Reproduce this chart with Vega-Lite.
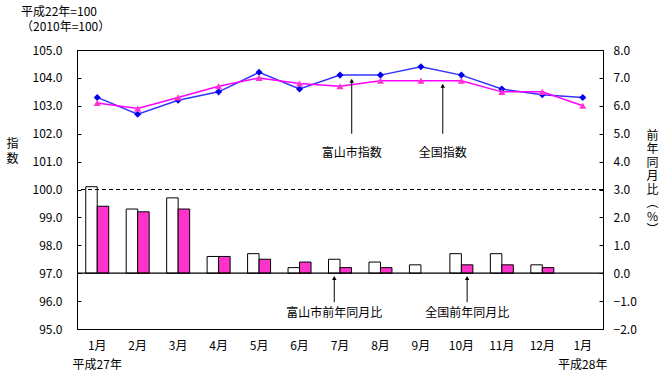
{
  "$schema": "https://vega.github.io/schema/vega-lite/v6.json",
  "width": 526,
  "height": 279,
  "autosize": "none",
  "padding": {"left": 77, "top": 50, "right": 59, "bottom": 59},
  "background": "#FFFFFF",
  "title": {
    "text": ["平成22年=100", "（2010年=100）"],
    "anchor": "start",
    "frame": "group",
    "dx": -56,
    "offset": 10,
    "fontSize": 12,
    "fontWeight": "normal",
    "lineHeight": 15,
    "font": "Noto Sans CJK JP",
    "color": "#000"
  },
  "config": {
    "view": {"stroke": "#000", "strokeWidth": 1},
    "font": "Noto Sans CJK JP",
    "axis": {
      "labelColor": "#000",
      "domainColor": "#000",
      "tickColor": "#000",
      "titleColor": "#000",
      "labelFont": "Noto Sans CJK JP",
      "titleFont": "Noto Sans CJK JP",
      "labelOverlap": false,
      "grid": false
    }
  },
  "datasets": {
    "one": [{}],
    "index": [
      {"month": 1, "series": "富山市", "value": 103.3},
      {"month": 2, "series": "富山市", "value": 102.7},
      {"month": 3, "series": "富山市", "value": 103.2},
      {"month": 4, "series": "富山市", "value": 103.5},
      {"month": 5, "series": "富山市", "value": 104.2},
      {"month": 6, "series": "富山市", "value": 103.6},
      {"month": 7, "series": "富山市", "value": 104.1},
      {"month": 8, "series": "富山市", "value": 104.1},
      {"month": 9, "series": "富山市", "value": 104.4},
      {"month": 10, "series": "富山市", "value": 104.1},
      {"month": 11, "series": "富山市", "value": 103.6},
      {"month": 12, "series": "富山市", "value": 103.4},
      {"month": 13, "series": "富山市", "value": 103.3},
      {"month": 1, "series": "全国", "value": 103.1},
      {"month": 2, "series": "全国", "value": 102.9},
      {"month": 3, "series": "全国", "value": 103.3},
      {"month": 4, "series": "全国", "value": 103.7},
      {"month": 5, "series": "全国", "value": 104.0},
      {"month": 6, "series": "全国", "value": 103.8},
      {"month": 7, "series": "全国", "value": 103.7},
      {"month": 8, "series": "全国", "value": 103.9},
      {"month": 9, "series": "全国", "value": 103.9},
      {"month": 10, "series": "全国", "value": 103.9},
      {"month": 11, "series": "全国", "value": 103.5},
      {"month": 12, "series": "全国", "value": 103.5},
      {"month": 13, "series": "全国", "value": 103.0}
    ],
    "yoy": [
      {"month": 1, "series": "富山市", "value": 3.1},
      {"month": 2, "series": "富山市", "value": 2.3},
      {"month": 3, "series": "富山市", "value": 2.7},
      {"month": 4, "series": "富山市", "value": 0.6},
      {"month": 5, "series": "富山市", "value": 0.7},
      {"month": 6, "series": "富山市", "value": 0.2},
      {"month": 7, "series": "富山市", "value": 0.5},
      {"month": 8, "series": "富山市", "value": 0.4},
      {"month": 9, "series": "富山市", "value": 0.3},
      {"month": 10, "series": "富山市", "value": 0.7},
      {"month": 11, "series": "富山市", "value": 0.7},
      {"month": 12, "series": "富山市", "value": 0.3},
      {"month": 1, "series": "全国", "value": 2.4},
      {"month": 2, "series": "全国", "value": 2.2},
      {"month": 3, "series": "全国", "value": 2.3},
      {"month": 4, "series": "全国", "value": 0.6},
      {"month": 5, "series": "全国", "value": 0.5},
      {"month": 6, "series": "全国", "value": 0.4},
      {"month": 7, "series": "全国", "value": 0.2},
      {"month": 8, "series": "全国", "value": 0.2},
      {"month": 10, "series": "全国", "value": 0.3},
      {"month": 11, "series": "全国", "value": 0.3},
      {"month": 12, "series": "全国", "value": 0.2}
    ],
    "barNotes": [
      {"month": 7, "series": "富山市", "label": "富山市前年同月比"},
      {"month": 10, "series": "全国", "label": "全国前年同月比"}
    ]
  },
  "layer": [
    {
      "layer": [
        {
          "data": {"name": "yoy"},
          "mark": {"type": "bar", "stroke": "#000", "strokeWidth": 1},
          "encoding": {
            "x": {
              "field": "month",
              "type": "ordinal",
              "scale": {"paddingInner": 0, "paddingOuter": 0},
              "axis": {
                "title": null,
                "labelAngle": 0,
                "ticks": false,
                "domain": false,
                "labelPadding": 11,
                "labelFontSize": 12,
                "labelLineHeight": 19,
                "labelBaseline": "top",
                "labelOverlap": false,
                "labelExpr": "datum.value == 1 ? ['1月', '平成27年'] : datum.value == 13 ? ['1月', '平成28年'] : datum.value + '月'"
              }
            },
            "xOffset": {
              "field": "series",
              "type": "nominal",
              "sort": ["富山市", "全国"],
              "scale": {"domain": ["富山市", "全国"], "paddingInner": 0, "paddingOuter": 0.76}
            },
            "y": {
              "field": "value",
              "type": "quantitative",
              "scale": {"domain": [-2, 8], "nice": false, "zero": false},
              "axis": {
                "orient": "right",
                "tickCount": 10,
                "format": ".1f",
                "tickSize": -4,
                "labelPadding": 14,
                "labelFontSize": 12,
                "labelOverlap": false,
                "title": ["前", "年", "同", "月", "比", "︵", "%", "︶"],
                "titleAngle": 0,
                "titleX": 49,
                "titleY": 80,
                "titleAlign": "center",
                "titleBaseline": "top",
                "titleFontSize": 12,
                "titleFontWeight": "normal",
                "titleLineHeight": 13.5
              }
            },
            "y2": {"datum": 0},
            "fill": {
              "field": "series",
              "type": "nominal",
              "scale": {"domain": ["富山市", "全国"], "range": ["#FFFFFF", "#FF33CC"]},
              "legend": null
            }
          }
        },
        {
          "data": {"name": "barNotes"},
          "mark": {"type": "rule", "color": "#000", "strokeWidth": 1},
          "encoding": {
            "x": {"field": "month", "type": "ordinal"},
            "xOffset": {"field": "series", "type": "nominal"},
            "y": {"datum": -0.17},
            "y2": {"datum": -1.04}
          }
        },
        {
          "data": {"name": "barNotes"},
          "mark": {"type": "point", "shape": "triangle-up", "filled": true, "color": "#000", "size": 20, "opacity": 1},
          "encoding": {
            "x": {"field": "month", "type": "ordinal"},
            "xOffset": {"field": "series", "type": "nominal"},
            "y": {"datum": -0.17}
          }
        },
        {
          "data": {"name": "barNotes"},
          "mark": {"type": "text", "fontSize": 12, "color": "#000", "baseline": "middle"},
          "encoding": {
            "x": {"field": "month", "type": "ordinal"},
            "xOffset": {"field": "series", "type": "nominal"},
            "y": {"datum": -1.43},
            "text": {"field": "label"}
          }
        }
      ]
    },
    {
      "layer": [
        {
          "data": {"name": "index"},
          "mark": {"type": "line", "strokeWidth": 1.5},
          "encoding": {
            "x": {"field": "month", "type": "ordinal"},
            "y": {
              "field": "value",
              "type": "quantitative",
              "scale": {"domain": [95, 105], "nice": false, "zero": false},
              "axis": {
                "orient": "left",
                "tickCount": 10,
                "format": ".1f",
                "tickSize": -4,
                "labelPadding": 19,
                "labelFontSize": 12,
                "labelOverlap": false,
                "title": ["指", "数"],
                "titleAngle": 0,
                "titleX": -65,
                "titleY": 88,
                "titleAlign": "center",
                "titleBaseline": "top",
                "titleFontSize": 12,
                "titleFontWeight": "normal",
                "titleLineHeight": 15
              }
            },
            "stroke": {
              "field": "series",
              "type": "nominal",
              "scale": {"domain": ["富山市", "全国"], "range": ["#3333FF", "#FF00FF"]},
              "legend": null
            }
          }
        },
        {
          "data": {"name": "one"},
          "mark": {"type": "rule", "color": "#000", "strokeDash": [4, 3], "strokeWidth": 1},
          "encoding": {"y": {"datum": 100, "type": "quantitative"}}
        },
        {
          "data": {"name": "one"},
          "mark": {"type": "rule", "color": "#000", "strokeWidth": 1.2},
          "encoding": {"y": {"datum": 97, "type": "quantitative"}}
        },
        {
          "data": {"name": "index"},
          "mark": {"type": "point", "filled": true, "opacity": 1, "size": 50},
          "encoding": {
            "x": {"field": "month", "type": "ordinal"},
            "y": {"field": "value", "type": "quantitative"},
            "color": {
              "field": "series",
              "type": "nominal",
              "scale": {"domain": ["富山市", "全国"], "range": ["#0000EE", "#FF33CC"]},
              "legend": null
            },
            "shape": {
              "field": "series",
              "type": "nominal",
              "scale": {"domain": ["富山市", "全国"], "range": ["diamond", "triangle-up"]},
              "legend": null
            }
          }
        },
        {
          "data": {"name": "one"},
          "mark": {"type": "rule", "color": "#000", "strokeWidth": 1},
          "encoding": {
            "x": {"datum": 7, "type": "ordinal", "bandPosition": 0.79},
            "y": {"datum": 103.9, "type": "quantitative"},
            "y2": {"datum": 102.0}
          }
        },
        {
          "data": {"name": "one"},
          "mark": {"type": "point", "shape": "triangle-up", "filled": true, "color": "#000", "size": 20, "opacity": 1},
          "encoding": {
            "x": {"datum": 7, "type": "ordinal", "bandPosition": 0.79},
            "y": {"datum": 103.9, "type": "quantitative"}
          }
        },
        {
          "data": {"name": "one"},
          "mark": {"type": "text", "fontSize": 12, "color": "#000", "baseline": "middle", "text": "富山市指数"},
          "encoding": {
            "x": {"datum": 7, "type": "ordinal", "bandPosition": 0.79},
            "y": {"datum": 101.31, "type": "quantitative"}
          }
        },
        {
          "data": {"name": "one"},
          "mark": {"type": "rule", "color": "#000", "strokeWidth": 1},
          "encoding": {
            "x": {"datum": 10, "type": "ordinal", "bandPosition": 0.04},
            "y": {"datum": 103.72, "type": "quantitative"},
            "y2": {"datum": 102.0}
          }
        },
        {
          "data": {"name": "one"},
          "mark": {"type": "point", "shape": "triangle-up", "filled": true, "color": "#000", "size": 20, "opacity": 1},
          "encoding": {
            "x": {"datum": 10, "type": "ordinal", "bandPosition": 0.04},
            "y": {"datum": 103.72, "type": "quantitative"}
          }
        },
        {
          "data": {"name": "one"},
          "mark": {"type": "text", "fontSize": 12, "color": "#000", "baseline": "middle", "text": "全国指数"},
          "encoding": {
            "x": {"datum": 10, "type": "ordinal", "bandPosition": 0.04},
            "y": {"datum": 101.31, "type": "quantitative"}
          }
        }
      ]
    }
  ],
  "resolve": {"scale": {"y": "independent"}}
}
